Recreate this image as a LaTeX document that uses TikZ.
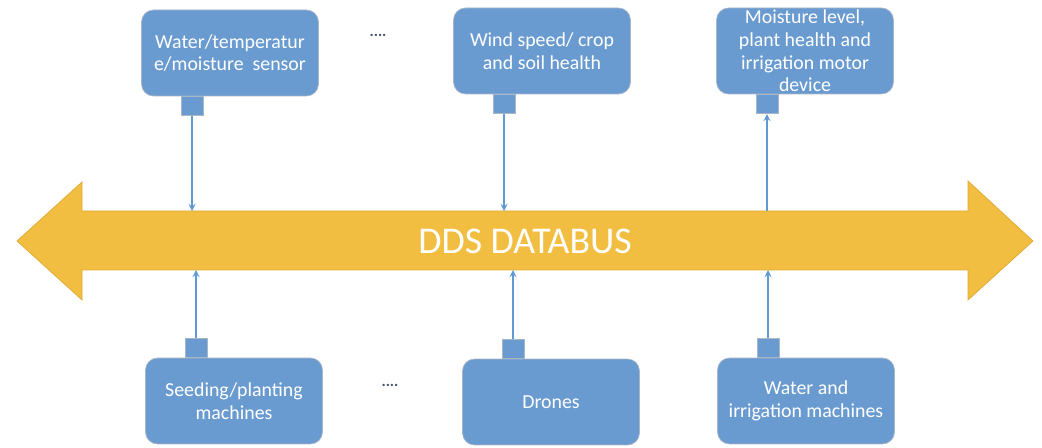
\documentclass[tikz,border=0pt]{standalone}
\usepackage{fontspec}
\setmainfont{Carlito}
\usetikzlibrary{positioning}
\definecolor{busyellow}{HTML}{F2BE41}
\definecolor{busedge}{HTML}{DDAA35}
\definecolor{boxblue}{HTML}{6A9BD0}
\definecolor{boxedge}{HTML}{A9B6C6}
\definecolor{linkblue}{HTML}{5F9AD6}
\definecolor{dotgray}{HTML}{44546A}
\begin{document}
\begin{tikzpicture}[x=0.02cm,y=-0.02cm,
    device/.style={draw=boxedge,fill=boxblue,rounded corners=0.24cm,
      minimum width=3.54cm,minimum height=1.72cm,inner xsep=2pt,inner ysep=0pt,
      align=center,text=white,font=\fontsize{11.3}{12.9}\selectfont},
    port/.style={draw=boxedge,fill=boxblue,minimum width=0.44cm,minimum height=0.38cm,inner sep=0pt},
    link/.style={linkblue,thick,-stealth}]
  \useasboundingbox (0,0) rectangle (1042,448);
  % the bus
  \filldraw[fill=busyellow,draw=busedge,thin]
    (17,241) -- (82,182) -- (82,211) -- (968,211) -- (968,181)
    -- (1033,241) -- (968,300) -- (968,270) -- (82,270) -- (82,300) -- cycle;
  \node[text=white,font=\fontsize{21.5}{24}\selectfont] (bus) at (525,241) {DDS DATABUS};
  \coordinate (bustop) at (0,211);
  \coordinate (busbot) at (0,270);
  % top devices
  \node[device] (sensor) at (230,53) {Water/temperatur\\e/moisture\ \ sensor};
  \node[device] (wind) at (542,51) {Wind speed/ crop\\and soil health};
  \node[device] (moist) at (805,51) {Moisture level,\\plant health and\\irrigation motor\\device};
  % bottom devices
  \node[device] (seed) at (234,401) {Seeding/planting\\machines};
  \node[device] (drone) at (551,402) {Drones};
  \node[device] (water) at (806,401) {Water and\\irrigation machines};
  % ports
  \node[port,below=0pt of sensor,xshift=-0.76cm] (p1) {};
  \node[port,below=0pt of wind,xshift=-0.76cm] (p2) {};
  \node[port,below=0pt of moist,xshift=-0.76cm] (p3) {};
  \node[port,above=0pt of seed,xshift=-0.76cm] (p4) {};
  \node[port,above=0pt of drone,xshift=-0.76cm] (p5) {};
  \node[port,above=0pt of water,xshift=-0.76cm] (p6) {};
  \draw[link] (p1) -- (p1 |- bustop);
  \draw[link] (p2) -- (p2 |- bustop);
  \draw[link] (p3 |- bustop) -- (p3);
  \draw[link] (p4) -- (p4 |- busbot);
  \draw[link] (p5) -- (p5 |- busbot);
  \draw[link] (p6) -- (p6 |- busbot);
  % more devices
  \node[text=dotgray,font=\fontsize{9}{10}\bfseries] (moretop) at (378,35) {....};
  \node[text=dotgray,font=\fontsize{9}{10}\bfseries] (morebot) at (390,385) {....};
\end{tikzpicture}
\end{document}
